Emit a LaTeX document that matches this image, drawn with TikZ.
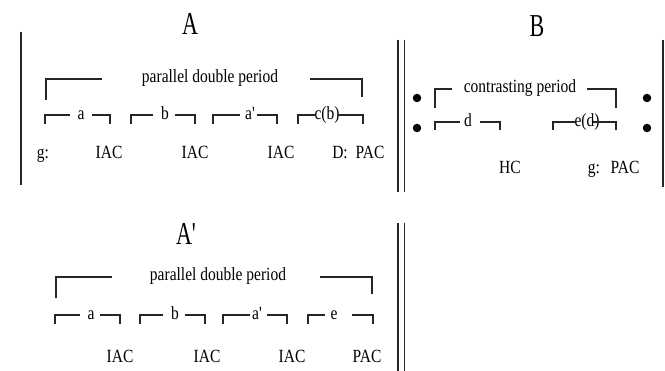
\documentclass[tikz,border=0pt]{standalone}
\usepackage{fontspec}
\setmainfont{Liberation Serif}[Ligatures=TeXOff]
\newcommand\vs[1]{\scalebox{1}[1.2]{#1}}
\newcommand\vt[1]{\scalebox{1}[1.45]{#1}}
\newcommand\mybrk[9]{%
  \node[lbl] (#1) at (#5,#8+5) {\vs{#2}};
  \draw[ln] (#3,#9) |- (#4,#8);
  \draw[ln] (#6,#8) -| (#7,#9);}
\begin{document}
\begin{tikzpicture}[x=1pt,y=-1pt,
  ln/.style={line width=1.6pt,black!85},
  bar/.style={line width=1.7pt,black!85},
  lbl/.style={inner sep=0pt,anchor=base,font=\fontsize{15.5}{16}\selectfont},
  ttl/.style={inner sep=0pt,anchor=base,font=\fontsize{22}{22}\selectfont},
  dot/.style={circle,fill=black,inner sep=0pt,minimum size=8.5pt}]
\useasboundingbox (0,0) rectangle (665,371);
\fill[white] (0,0) rectangle (665,371);
% bars
\draw[bar] (21,32) -- (21,185);
\draw[bar] (398,40) -- (398,192);
\draw[bar] (404.5,40) -- (404.5,192);
\draw[bar] (663,40) -- (663,187);
\draw[bar] (398,223) -- (398,371);
\draw[bar] (404.5,223) -- (404.5,371);
% titles
\node[ttl] (tA) at (190,35) {\vt{A}};
\node[ttl] (tB) at (537,37) {\vt{B}};
\node[ttl] (tA2) at (186,245) {\vt{A'}};
% section A
\node[lbl] (pdA) at (210,83) {\vs{parallel double period}};
\draw[ln] (46,100) |- (102,79);
\draw[ln] (310,79) -| (362,97);
\mybrk{a1}{a}{45}{70}{81}{92}{110}{115}{124}
\mybrk{b1}{b}{131}{153}{165}{175}{195}{115}{124}
\mybrk{ap1}{a'}{213}{240}{250}{257}{277}{115}{124}
\mybrk{cb1}{c(b)}{298}{315}{327}{338}{363}{115}{124}
\node[lbl] (g1) at (43,159) {\vs{g:}};
\node[lbl] (i1) at (109,159) {\vs{IAC}};
\node[lbl] (i2) at (195,159) {\vs{IAC}};
\node[lbl] (i3) at (281,159) {\vs{IAC}};
\node[lbl] (D1) at (340,159) {\vs{D:}};
\node[lbl] (p1) at (370,159) {\vs{PAC}};
% section B
\node[dot] (dl1) at (417,98) {};
\node[dot] (dl2) at (417,128) {};
\node[dot] (dr1) at (647,98) {};
\node[dot] (dr2) at (647,128) {};
\node[lbl] (cp) at (520,93) {\vs{contrasting period}};
\draw[ln] (435,108) |- (452,89);
\draw[ln] (587,89) -| (616,108);
\mybrk{d1}{d}{435}{460}{468}{480}{500}{122}{130}
\mybrk{ed1}{e(d)}{553}{575}{587}{593}{616}{122}{130}
\node[lbl] (hc) at (510,174) {\vs{HC}};
\node[lbl] (g2) at (594,174) {\vs{g:}};
\node[lbl] (p2) at (625,174) {\vs{PAC}};
% section A'
\node[lbl] (pdA2) at (218,281) {\vs{parallel double period}};
\draw[ln] (56,298) |- (112,277);
\draw[ln] (320,277) -| (372,294);
\mybrk{a2}{a}{55}{80}{91}{100}{120}{315}{324}
\mybrk{b2}{b}{140}{163}{175}{185}{205}{315}{324}
\mybrk{ap2}{a'}{223}{250}{257}{267}{287}{315}{324}
\mybrk{e2}{e}{308}{325}{334}{352}{373}{315}{324}
\node[lbl] (i4) at (120,363) {\vs{IAC}};
\node[lbl] (i5) at (207,363) {\vs{IAC}};
\node[lbl] (i6) at (292,363) {\vs{IAC}};
\node[lbl] (p3) at (367,363) {\vs{PAC}};
\end{tikzpicture}
\end{document}
